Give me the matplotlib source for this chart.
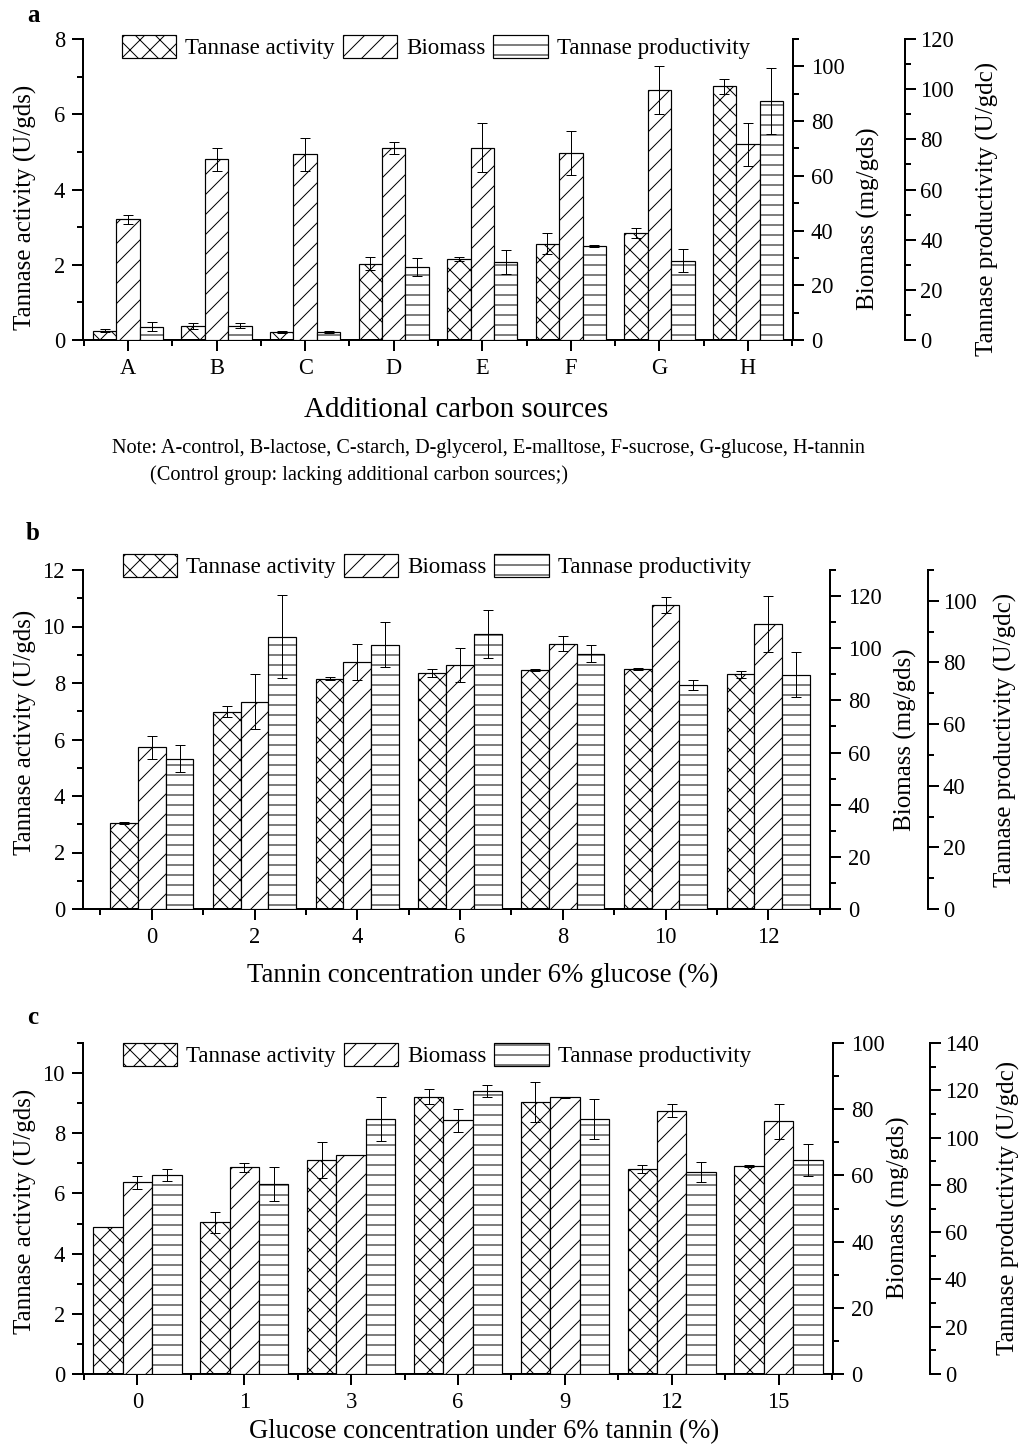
import numpy as np
import matplotlib
matplotlib.use('Agg')
import matplotlib.pyplot as plt
from matplotlib.ticker import MultipleLocator, FixedLocator

# figure is laid out in pixels; P converts a pixel size to points
W, H = 1030, 1452
DPI = 60
P = 72.0 / DPI

plt.rcParams['font.family'] = ['Liberation Serif', 'DejaVu Serif']
plt.rcParams['hatch.linewidth'] = 1.0 * P

# panel a: additional carbon sources
a_labels = ['A', 'B', 'C', 'D', 'E', 'F', 'G', 'H']
a_act = [0.25, 0.38, 0.21, 2.03, 2.16, 2.56, 2.85, 6.75]
a_act_err = [0.05, 0.08, 0.02, 0.17, 0.05, 0.28, 0.13, 0.20]
a_bio = [44.1, 66.0, 67.8, 70.3, 70.3, 68.3, 91.4, 71.5]
a_bio_err = [1.6, 4.1, 6.0, 2.2, 8.9, 8.1, 8.7, 7.8]
a_prod = [5.3, 5.7, 3.1, 29.0, 31.0, 37.5, 31.6, 95.3]
a_prod_err = [1.7, 1.0, 0.5, 3.5, 4.8, 0.3, 4.5, 13.0]

# panel b: tannin concentration under 6% glucose
b_labels = ['0', '2', '4', '6', '8', '10', '12']
b_act = [3.04, 6.99, 8.15, 8.36, 8.47, 8.49, 8.31]
b_act_err = [0.03, 0.20, 0.05, 0.15, 0.03, 0.03, 0.13]
b_bio = [62.0, 79.5, 94.8, 93.5, 101.8, 116.5, 109.4]
b_bio_err = [4.3, 10.5, 7.0, 6.4, 2.9, 3.0, 10.8]
b_prod = [48.8, 88.4, 85.8, 89.2, 82.8, 72.7, 76.0]
b_prod_err = [4.4, 13.6, 7.3, 7.7, 2.8, 1.6, 7.3]

# panel c: glucose concentration under 6% tannin
c_labels = ['0', '1', '3', '6', '9', '12', '15']
c_act = [4.90, 5.04, 7.12, 9.22, 9.04, 6.82, 6.90]
c_act_err = [0.0, 0.35, 0.60, 0.24, 0.66, 0.14, 0.03]
c_bio = [57.9, 62.4, 66.2, 76.6, 83.6, 79.6, 76.3]
c_bio_err = [2.0, 1.3, 0.0, 3.4, 0.2, 2.0, 5.2]
c_prod = [84.0, 80.3, 107.8, 119.8, 108.0, 85.4, 90.5]
c_prod_err = [2.5, 7.2, 9.2, 2.5, 8.5, 4.1, 6.8]

legend_labels = ['Tannase activity', 'Biomass', 'Tannase productivity']

fig = plt.figure(figsize=(W / DPI, H / DPI), dpi=DPI)


def fx(x):
    return x / W


def fy(y):
    return 1 - y / H


def style_axis(axis_obj, side):
    axis_obj.tick_params(axis='y', which='major', direction='out', length=11 * P, width=2 * P,
                         labelsize=22.5 * P, pad=7 * P)
    axis_obj.tick_params(axis='y', which='minor', direction='out', length=6 * P, width=2 * P)
    for s in axis_obj.spines.values():
        s.set_visible(False)
    axis_obj.spines[side].set_visible(True)
    axis_obj.spines[side].set_linewidth(2 * P)


def panel(box, labels, act, act_err, bio, bio_err, prod, prod_err, width, xlim,
          lims, prod_off, xlabel, xlab_pos, ylab_pos, leg_pos, letter_pos, letter):
    left, top, right, bottom = box
    ax = fig.add_axes([fx(left), fy(bottom), fx(right - left), (bottom - top) / H])
    ax2 = ax.twinx()
    ax3 = ax.twinx()
    x = np.arange(len(labels))

    kw = dict(edgecolor='black', facecolor='white', linewidth=1.2 * P)
    ekw = dict(fmt='none', ecolor='black', elinewidth=1 * P, capsize=5 * P, capthick=1 * P)
    b1 = ax.bar(x - width, act, width, hatch='x', **kw)
    ax.errorbar(x - width, act, yerr=act_err, **ekw)
    b2 = ax2.bar(x, bio, width, hatch='/', **kw)
    ax2.errorbar(x, bio, yerr=bio_err, **ekw)
    b3 = ax3.bar(x + width, prod, width, hatch='-', **kw)
    ax3.errorbar(x + width, prod, yerr=prod_err, **ekw)

    (l1, s1), (l2, s2), (l3, s3) = lims
    ax.set_xlim(*xlim)
    ax.set_ylim(0, l1)
    ax2.set_ylim(0, l2)
    ax3.set_ylim(0, l3)
    ax.yaxis.set_major_locator(MultipleLocator(s1))
    ax.yaxis.set_minor_locator(MultipleLocator(s1 / 2))
    ax2.yaxis.set_major_locator(MultipleLocator(s2))
    ax2.yaxis.set_minor_locator(MultipleLocator(s2 / 2))
    ax3.yaxis.set_major_locator(MultipleLocator(s3))
    ax3.yaxis.set_minor_locator(MultipleLocator(s3 / 2))

    style_axis(ax, 'left')
    ax.spines['bottom'].set_visible(True)
    ax.spines['bottom'].set_linewidth(2 * P)
    style_axis(ax2, 'right')
    style_axis(ax3, 'right')
    ax3.spines['right'].set_position(('axes', prod_off))
    ax3.tick_params(axis='y', which='major', pad=4 * P)

    ax.set_xticks(x)
    ax.set_xticklabels(labels)
    ax.xaxis.set_minor_locator(FixedLocator(np.arange(-0.5, len(labels), 1.0)))
    ax.tick_params(axis='x', which='major', direction='out', length=11 * P, width=2 * P,
                   labelsize=22.5 * P, pad=7 * P)
    ax.tick_params(axis='x', which='minor', direction='out', length=6 * P, width=2 * P)

    ax.set_xlabel(xlabel, fontsize=xlab_pos[2] * P, va='center')
    ax.xaxis.set_label_coords(fx(xlab_pos[0]), fy(xlab_pos[1]), transform=fig.transFigure)

    ax.set_ylabel('Tannase activity (U/gds)', fontsize=25 * P, va='center')
    ax.yaxis.set_label_coords(fx(ylab_pos[0][0]), fy(ylab_pos[0][1]), transform=fig.transFigure)
    ax2.set_ylabel('Biomass (mg/gds)', fontsize=25 * P, va='center')
    ax2.yaxis.set_label_coords(fx(ylab_pos[1][0]), fy(ylab_pos[1][1]), transform=fig.transFigure)
    ax3.set_ylabel('Tannase productivity (U/gdc)', fontsize=25 * P, va='center')
    ax3.yaxis.set_label_coords(fx(ylab_pos[2][0]), fy(ylab_pos[2][1]), transform=fig.transFigure)

    ax3.legend([b1, b2, b3], legend_labels, ncol=3, loc='center left',
               bbox_to_anchor=(fx(leg_pos[0]), fy(leg_pos[1])), bbox_transform=fig.transFigure,
               frameon=False, fontsize=23 * P, handlelength=2.35, handleheight=1.17,
               handletextpad=0.4, columnspacing=0.35, borderpad=0, borderaxespad=0)

    fig.text(fx(letter_pos[0]), fy(letter_pos[1]), letter, fontsize=25 * P, fontweight='bold',
             ha='center', va='center')
    return ax


panel((83, 39, 793, 340), a_labels, a_act, a_act_err, a_bio, a_bio_err, a_prod, a_prod_err,
      0.265, (-0.51, 7.51), ((8, 2), (110, 20), (120, 20)), 1.158,
      'Additional carbon sources', (456, 410, 29),
      ((25, 207), (868, 219), (987, 209)), (122, 47), (33, 16), 'a')

panel((83, 570, 830, 909), b_labels, b_act, b_act_err, b_bio, b_bio_err, b_prod, b_prod_err,
      0.27, (-0.67, 6.6), ((12, 2), (130, 20), (110, 20)), 1.131,
      'Tannin concentration under 6% glucose (%)', (483, 975, 26.8),
      ((25, 732), (905, 740), (1005, 740)), (123, 566), (33, 533), 'b')

panel((83, 1043, 833, 1374), c_labels, c_act, c_act_err, c_bio, c_bio_err, c_prod, c_prod_err,
      0.275, (-0.51, 6.51), ((11, 2), (100, 20), (140, 20)), 1.129,
      'Glucose concentration under 6% tannin (%)', (484, 1432, 26.8),
      ((25, 1211), (898, 1208), (1008, 1208)), (123, 1055), (33, 1017), 'c')

fig.text(fx(112), fy(448), 'Note: A-control, B-lactose, C-starch, D-glycerol, E-malltose, '
         'F-sucrose, G-glucose, H-tannin', fontsize=20.3 * P, ha='left', va='center')
fig.text(fx(150), fy(475), '(Control group: lacking additional carbon sources;)',
         fontsize=20.4 * P, ha='left', va='center')

fig.savefig('out.png', dpi=DPI)
